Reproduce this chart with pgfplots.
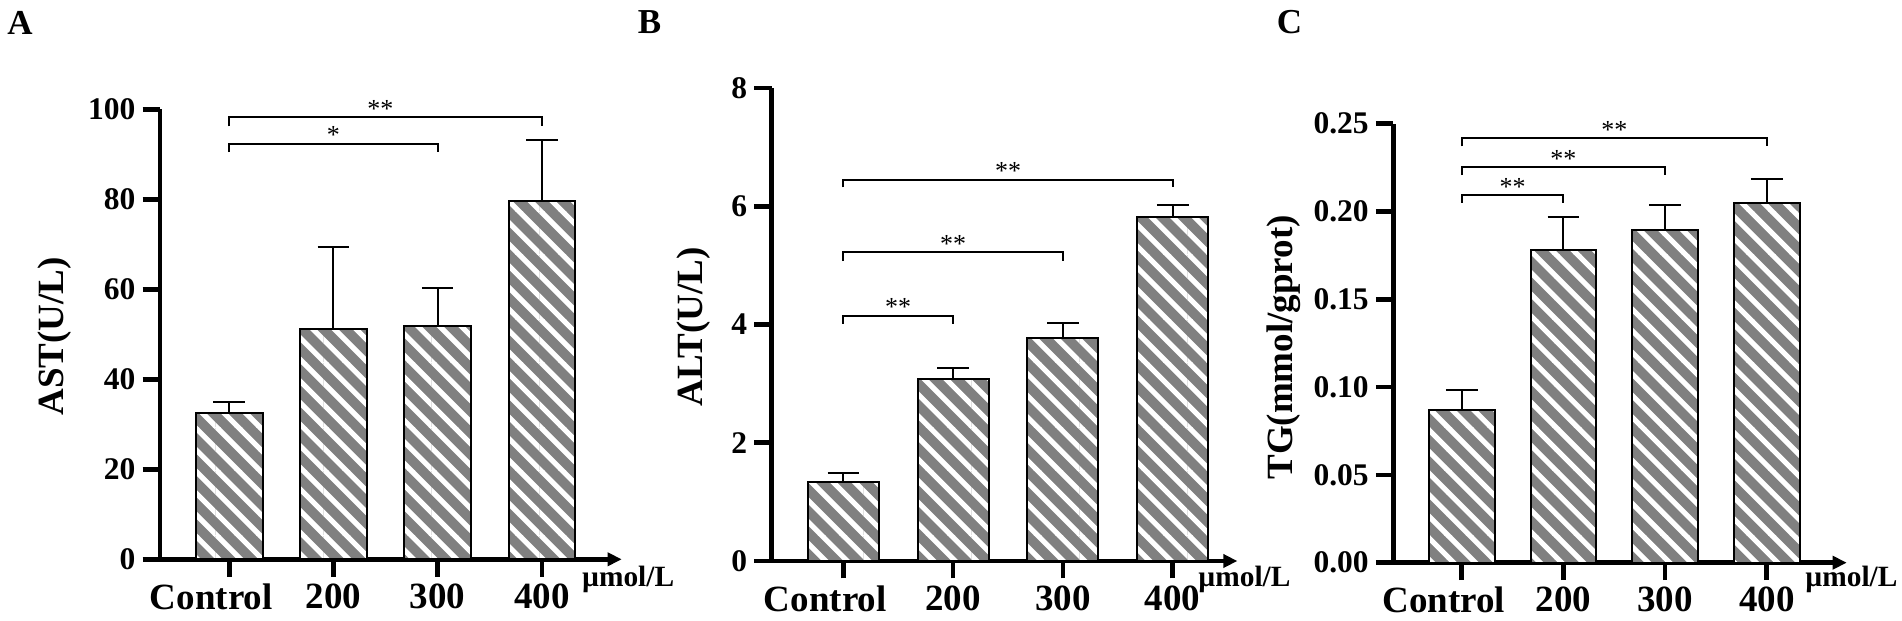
\documentclass[border=0pt]{standalone}
\usepackage{pgfplots}
\pgfplotsset{compat=1.18}
\usepackage{fontspec}
\setmainfont{Liberation Serif}
\usetikzlibrary{patterns,arrows.meta}
\definecolor{barg}{RGB}{128,128,128}
\pgfdeclarepatterninherentlycolored{gstripe}
{\pgfqpoint{-0.3pt}{-0.3pt}}{\pgfqpoint{11.1pt}{11.1pt}}{\pgfqpoint{10.8pt}{10.8pt}}
{
 \pgfsetfillcolor{barg}
 \pgfpathrectangle{\pgfqpoint{-0.3pt}{-0.3pt}}{\pgfqpoint{11.4pt}{11.4pt}}
 \pgfusepath{fill}
 \pgfsetstrokecolor{white}
 \pgfsetlinewidth{2.59pt}
 \pgfpathmoveto{\pgfqpoint{2pt}{-2pt}}\pgfpathlineto{\pgfqpoint{-2pt}{2pt}}
 \pgfpathmoveto{\pgfqpoint{12.8pt}{-2pt}}\pgfpathlineto{\pgfqpoint{-2pt}{12.8pt}}
 \pgfpathmoveto{\pgfqpoint{23.6pt}{-2pt}}\pgfpathlineto{\pgfqpoint{-2pt}{23.6pt}}
 \pgfusepath{stroke}
}
\pgfplotsset{
  myax/.style={
    scale only axis,
    anchor=south west,
    axis x line=bottom, axis y line=left,
    axis line style={line width=2.3pt},
    x axis line style={-{Triangle[length=7pt,width=6.5pt]}},
    y axis line style={-},
    every tick/.style={line width=2.3pt, black},
    major tick length=8.75pt,
    tick align=outside,
    xtick={0,1,2,3},
    xticklabels={{\makebox[0pt]{Control\kern18pt}},200,300,400},
    xticklabel style={font=\fontsize{18.5}{20}\selectfont\bfseries},
    yticklabel style={font=\fontsize{15.75}{17}\selectfont\bfseries},
    ymin=0,
    clip=false,
  },
  mybar/.style={
    ybar, pattern=gstripe, draw=black, line width=1pt,
    error bars/y dir=plus, error bars/y explicit,
    error bars/error bar style={line width=1pt, black, solid},
    error bars/error mark options={rotate=90, line width=1pt, black, mark size=7.9pt},
  },
}
\pgfplotstableread{
x y e
0 32.4 2.6
1 51.1 18.3
2 51.8 8.4
3 79.6 13.6
}\dataA
\pgfplotstableread{
x y e
0 1.33 0.16
1 3.07 0.19
2 3.77 0.25
3 5.81 0.21
}\dataB
\pgfplotstableread{
x y e
0 0.087 0.0113
1 0.178 0.0188
2 0.1894 0.0145
3 0.2048 0.0137
}\dataC
\begin{document}
\begin{tikzpicture}
\useasboundingbox (0,0) rectangle (951pt,310.5pt);
% Panel A
\begin{axis}[myax, at={(80pt,30.85pt)}, width=230.85pt, height=225pt,
  xmin=-0.665, xmax=3.766, ymax=100,
  ytick={0,20,40,60,80,100}, yticklabels={0,20,40,60,80,100}]
\addplot[bar width=33.3pt, mybar] table[x=x, y=y, y error=e] {\dataA};
\draw[line width=1pt] (axis cs:0,90.5) -- (axis cs:0,92.3) -- (axis cs:2,92.3) -- (axis cs:2,90.5);
\draw[line width=1pt] (axis cs:0,96.2) -- (axis cs:0,98.2) -- (axis cs:3,98.2) -- (axis cs:3,96.2);
\node[font=\fontsize{13}{13}\selectfont, anchor=base, inner sep=0pt] at (axis cs:1,92.3) {*};
\node[font=\fontsize{13}{13}\selectfont, anchor=base, inner sep=0pt] at (axis cs:1.45,98.2) {**};
\end{axis}
% Panel B
\begin{axis}[myax, at={(385.85pt,30pt)}, width=232.85pt, height=236.5pt,
  xmin=-0.652, xmax=3.589, ymax=8,
  ytick={0,2,4,6,8}, yticklabels={0,2,4,6,8}]
\addplot[bar width=35.5pt, mybar] table[x=x, y=y, y error=e] {\dataB};
\draw[line width=1pt] (axis cs:0,4.01) -- (axis cs:0,4.15) -- (axis cs:1,4.15) -- (axis cs:1,4.01);
\draw[line width=1pt] (axis cs:0,5.07) -- (axis cs:0,5.22) -- (axis cs:2,5.22) -- (axis cs:2,5.07);
\draw[line width=1pt] (axis cs:0,6.32) -- (axis cs:0,6.45) -- (axis cs:3,6.45) -- (axis cs:3,6.32);
\node[font=\fontsize{13}{13}\selectfont, anchor=base, inner sep=0pt] at (axis cs:0.5,4.15) {**};
\node[font=\fontsize{13}{13}\selectfont, anchor=base, inner sep=0pt] at (axis cs:1,5.22) {**};
\node[font=\fontsize{13}{13}\selectfont, anchor=base, inner sep=0pt] at (axis cs:1.5,6.45) {**};
\end{axis}
% Panel C
\begin{axis}[myax, at={(696.65pt,29.15pt)}, width=226.7pt, height=219.5pt,
  xmin=-0.673, xmax=3.786, ymax=0.25,
  ytick={0,0.05,0.10,0.15,0.20,0.25}, yticklabels={0.00,0.05,0.10,0.15,0.20,0.25}]
\addplot[bar width=32.9pt, mybar] table[x=x, y=y, y error=e] {\dataC};
\draw[line width=1pt] (axis cs:0,0.205) -- (axis cs:0,0.2093) -- (axis cs:1,0.2093) -- (axis cs:1,0.205);
\draw[line width=1pt] (axis cs:0,0.2207) -- (axis cs:0,0.2252) -- (axis cs:2,0.2252) -- (axis cs:2,0.2207);
\draw[line width=1pt] (axis cs:0,0.2371) -- (axis cs:0,0.2416) -- (axis cs:3,0.2416) -- (axis cs:3,0.2371);
\node[font=\fontsize{13}{13}\selectfont, anchor=base, inner sep=0pt] at (axis cs:0.5,0.2093) {**};
\node[font=\fontsize{13}{13}\selectfont, anchor=base, inner sep=0pt] at (axis cs:1,0.2252) {**};
\node[font=\fontsize{13}{13}\selectfont, anchor=base, inner sep=0pt] at (axis cs:1.5,0.2416) {**};
\end{axis}
% Labels
\node[font=\fontsize{17.5}{18}\selectfont\bfseries] at (10pt,299pt) {A};
\node[font=\fontsize{17.5}{18}\selectfont\bfseries] at (324.75pt,299.5pt) {B};
\node[font=\fontsize{17.5}{18}\selectfont\bfseries] at (644.75pt,299.5pt) {C};
\node[font=\fontsize{18.5}{20}\selectfont\bfseries, rotate=90] at (27.5pt,142.25pt) {AST(U/L)};
\node[font=\fontsize{18.5}{20}\selectfont\bfseries, rotate=90] at (347pt,147.1pt) {ALT(U/L)};
\node[font=\fontsize{18.5}{20}\selectfont\bfseries, rotate=90] at (642pt,136.8pt) {TG(mmol/gprot)};
\node[font=\fontsize{14.7}{15}\selectfont\bfseries, anchor=base west, inner sep=0pt] at (290.85pt,17pt) {µmol/L};
\node[font=\fontsize{14.7}{15}\selectfont\bfseries, anchor=base west, inner sep=0pt] at (599pt,17pt) {µmol/L};
\node[font=\fontsize{14.7}{15}\selectfont\bfseries, anchor=base west, inner sep=0pt] at (902.5pt,17pt) {µmol/L};
\end{tikzpicture}
\end{document}
